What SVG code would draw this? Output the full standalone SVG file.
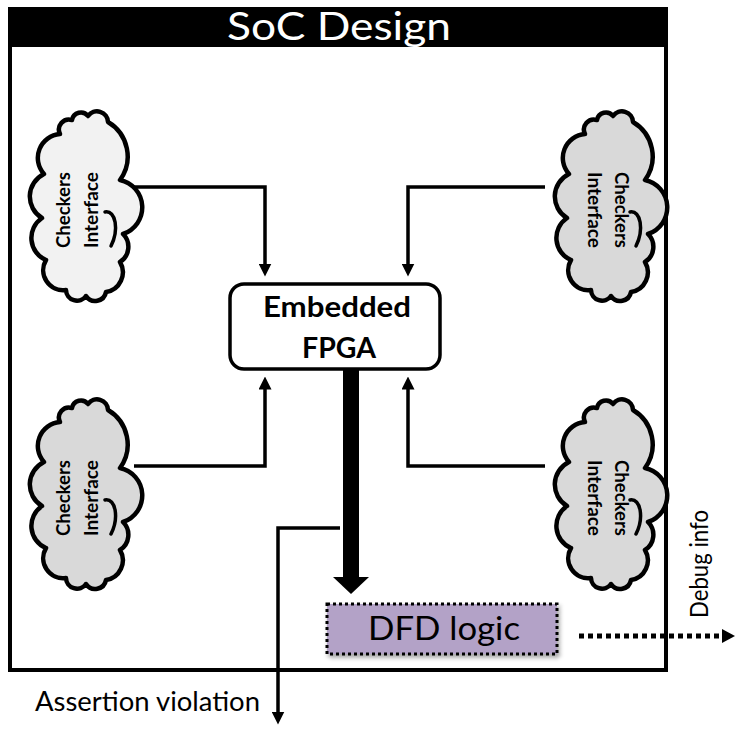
<svg xmlns="http://www.w3.org/2000/svg" width="735" height="734" viewBox="0 0 735 734">
  <style>
    .lbl { font-family: Lato, "Open Sans", "Liberation Sans", sans-serif; fill: #000; }
    .cloud-txt { font-family: Lato, "Open Sans", "Liberation Sans", sans-serif; font-weight: bold; font-size: 18.5px; fill: #000; }
    .wire { fill: none; stroke: #000; stroke-width: 3.5; }
    .cloud { stroke: #000; stroke-width: 4.5; stroke-linejoin: round; }
    .hook { fill: none; stroke: #000; stroke-width: 3.5; stroke-linecap: round; }
  </style>
  <defs>
    <marker id="head" viewBox="0 0 12 12" refX="6" refY="6" markerWidth="13" markerHeight="13" markerUnits="userSpaceOnUse" orient="auto">
      <path d="M0,0 L12,6 L0,12 z" fill="#000"/>
    </marker>
    <!-- vertical cloud outline, local box about 0..90 x 0..190 -->
    <path id="cloudShape" d="M22,22 A10,10 0 0 1 34,8 A9,9 0 0 1 50,4 A11,11 0 0 1 70,10 A40,40 0 0 1 82,68 A28,28 0 0 1 85,122 A18,18 0 0 1 82,150 A20,20 0 0 1 68,180 A11,11 0 0 1 48,184 A11,11 0 0 1 28,178 A20,20 0 0 1 8,148 A24,24 0 0 1 4,106 A25,25 0 0 1 6,62 A24,24 0 0 1 22,22 Z"/>
    <filter id="shadow" x="-10%" y="-20%" width="130%" height="160%">
      <feGaussianBlur in="SourceAlpha" stdDeviation="2"/>
      <feOffset dx="2" dy="3"/>
      <feComponentTransfer><feFuncA type="linear" slope="0.35"/></feComponentTransfer>
      <feMerge><feMergeNode/><feMergeNode in="SourceGraphic"/></feMerge>
    </filter>
  </defs>

  <!-- SoC frame -->
  <g id="soc">
    <rect x="10" y="45" width="656" height="625" fill="#fff" stroke="#000" stroke-width="4"/>
    <rect x="8" y="7" width="660" height="40" fill="#000"/>
    <text class="lbl" x="339" y="40" font-size="39" style="fill:#fff" text-anchor="middle" textLength="224" lengthAdjust="spacingAndGlyphs">SoC Design</text>
  </g>

  <!-- connectors -->
  <g id="connectors">
    <path class="wire" d="M134,187 H265 V270" marker-end="url(#head)"/>
    <path class="wire" d="M545,187 H408 V270" marker-end="url(#head)"/>
    <path class="wire" d="M134,466 H265 V383" marker-end="url(#head)"/>
    <path class="wire" d="M545,466 H408 V383" marker-end="url(#head)"/>
    <!-- FPGA to DFD bus -->
    <rect x="343" y="368" width="16" height="210" fill="#000"/>
    <polygon points="333,577 369,577 351,594" fill="#000"/>
    <!-- assertion output -->
    <path class="wire" d="M340,528 H278 V718" marker-end="url(#head)"/>
    <!-- debug output -->
    <line x1="579" y1="636" x2="724" y2="636" stroke="#000" stroke-width="5" stroke-dasharray="5,4"/>
    <polygon points="722,629 735,636 722,643" fill="#000"/>
  </g>

  <g id="fpga">
    <rect x="230" y="284" width="210" height="85" rx="14" fill="#fff" stroke="#000" stroke-width="3.5"/>
    <text class="lbl" x="337" y="317" font-size="29" font-weight="bold" text-anchor="middle" textLength="148" lengthAdjust="spacingAndGlyphs">Embedded</text>
    <text class="lbl" x="339" y="358" font-size="29" font-weight="bold" text-anchor="middle" textLength="74" lengthAdjust="spacingAndGlyphs">FPGA</text>
  </g>

  <g id="checkers-tl" transform="translate(38,112)">
    <use href="#cloudShape" class="cloud" fill="#f2f2f2"/>
    <path class="hook" d="M67,100 C78,98 81,118 73,134"/>
    <text class="cloud-txt" transform="translate(32,98) rotate(-90)" text-anchor="middle" textLength="76" lengthAdjust="spacingAndGlyphs">Checkers</text>
    <text class="cloud-txt" transform="translate(60,98) rotate(-90)" text-anchor="middle" textLength="76" lengthAdjust="spacingAndGlyphs">Interface</text>
  </g>

  <g id="checkers-tr" transform="translate(563,112)">
    <use href="#cloudShape" class="cloud" fill="#d9d9d9"/>
    <path class="hook" d="M67,100 C78,98 81,118 73,134"/>
    <text class="cloud-txt" transform="translate(52,98) rotate(90)" text-anchor="middle" textLength="76" lengthAdjust="spacingAndGlyphs">Checkers</text>
    <text class="cloud-txt" transform="translate(25,98) rotate(90)" text-anchor="middle" textLength="76" lengthAdjust="spacingAndGlyphs">Interface</text>
  </g>

  <g id="checkers-bl" transform="translate(38,400)">
    <use href="#cloudShape" class="cloud" fill="#d9d9d9"/>
    <path class="hook" d="M67,100 C78,98 81,118 73,134"/>
    <text class="cloud-txt" transform="translate(32,98) rotate(-90)" text-anchor="middle" textLength="76" lengthAdjust="spacingAndGlyphs">Checkers</text>
    <text class="cloud-txt" transform="translate(60,98) rotate(-90)" text-anchor="middle" textLength="76" lengthAdjust="spacingAndGlyphs">Interface</text>
  </g>

  <g id="checkers-br" transform="translate(563,400)">
    <use href="#cloudShape" class="cloud" fill="#d9d9d9"/>
    <path class="hook" d="M67,100 C78,98 81,118 73,134"/>
    <text class="cloud-txt" transform="translate(52,98) rotate(90)" text-anchor="middle" textLength="76" lengthAdjust="spacingAndGlyphs">Checkers</text>
    <text class="cloud-txt" transform="translate(25,98) rotate(90)" text-anchor="middle" textLength="76" lengthAdjust="spacingAndGlyphs">Interface</text>
  </g>

  <g id="dfd">
    <rect x="327" y="604" width="230" height="50" fill="#b3a2c7" stroke="#000" stroke-width="3" stroke-dasharray="3,3" filter="url(#shadow)"/>
    <text class="lbl" x="444" y="640" font-size="33" text-anchor="middle" textLength="152" lengthAdjust="spacingAndGlyphs">DFD logic</text>
  </g>

  <text class="lbl" x="35" y="711" font-size="26" textLength="225" lengthAdjust="spacingAndGlyphs">Assertion violation</text>
  <text class="lbl" transform="translate(708,618) rotate(-90)" font-size="25" textLength="108" lengthAdjust="spacingAndGlyphs">Debug info</text>
</svg>
